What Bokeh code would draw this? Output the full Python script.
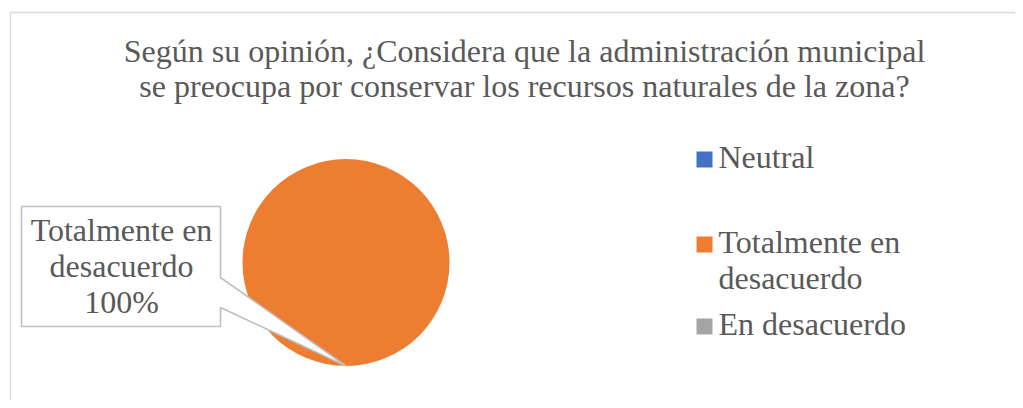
import numpy as np
from bokeh.plotting import figure
from bokeh.models import Range1d
from bokeh.core.properties import value
from bokeh.embed import file_html
from bokeh.resources import INLINE

# ---- data ----
categories = ["Neutral", "Totalmente en desacuerdo", "En desacuerdo"]
values = [0, 100, 0]
colors = ["#4472C4", "#ED7D31", "#A5A5A5"]
legend_lines = [["Neutral"], ["Totalmente en", "desacuerdo"], ["En desacuerdo"]]
title_lines = ["Según su opinión, ¿Considera que la administración municipal",
               "se preocupa por conservar los recursos naturales de la zona?"]
label_category = "Totalmente en desacuerdo"
label_lines = ["Totalmente en", "desacuerdo"]

FONT = value("Liberation Serif")
FS = value("32px")
TXT = "#595959"
DY = 14  # baseline correction for svg text rendering

W, H = 1015, 400
p = figure(width=W, height=H, output_backend="svg", toolbar_location=None,
           x_range=Range1d(0, W), y_range=Range1d(408 - H, 408),
           min_border=0, border_fill_color="white", outline_line_color=None)
p.axis.visible = False
p.grid.visible = False

def Y(py):
    return 408 - py

def YT(py):
    return 408 - (py - DY)

# chart border
p.line([10, 10, 1040], [Y(420), Y(12), Y(12)], line_color="#D9D9D9", line_width=1.3)

# title
p.text(x=[524, 524], y=[YT(64), YT(99)], text=title_lines, text_align="center",
       text_baseline="alphabetic", text_font=FONT, text_font_size=FS, text_color=TXT)

# pie
total = float(sum(values))
fracs = np.array(values, dtype=float) / total
ends = np.pi / 2 - 2 * np.pi * np.cumsum(fracs)
starts = np.concatenate([[np.pi / 2], ends[:-1]])
cx, cy, r = 345.5, Y(262), 103.5
for s, e, f, c in zip(starts, ends, fracs, colors):
    if f <= 0:
        continue
    if f >= 0.9999:
        p.circle(x=[cx], y=[cy], radius=r, fill_color=c, line_color=None)
    else:
        p.wedge(x=[cx], y=[cy], radius=r, start_angle=[s], end_angle=[e],
                direction="clock", fill_color=c, line_color="white", line_width=1.5)

# data label callout
idx = categories.index(label_category)
pct = f"{round(fracs[idx] * 100):d}%"
tipx, tipy = cx, cy - r
bx0, bx1, by0, by1 = 21, 220, Y(206), Y(326)
p.patch([bx0, bx1, bx1, tipx, bx1, bx1, bx0],
        [by0, by0, Y(277), tipy, Y(307), by1, by1],
        fill_color="white", line_color="#BFBFBF", line_width=1.6)
p.text(x=[121, 121, 121], y=[YT(243), YT(279), YT(315)], text=label_lines + [pct],
       text_align="center", text_baseline="alphabetic", text_font=FONT,
       text_font_size=FS, text_color=TXT)

# legend
leg_y = [159, 244, 326]
for lines, c, ly in zip(legend_lines, colors, leg_y):
    p.scatter(x=[704], y=[Y(ly)], marker="square", size=16, fill_color=c, line_color=None)
    for k, t in enumerate(lines):
        p.text(x=[718], y=[YT(ly + 11 + 36 * k)], text=[t], text_align="left",
               text_baseline="alphabetic", text_font=FONT, text_font_size=FS,
               text_color=TXT)

open("out.html", "w").write(file_html(p, INLINE))
